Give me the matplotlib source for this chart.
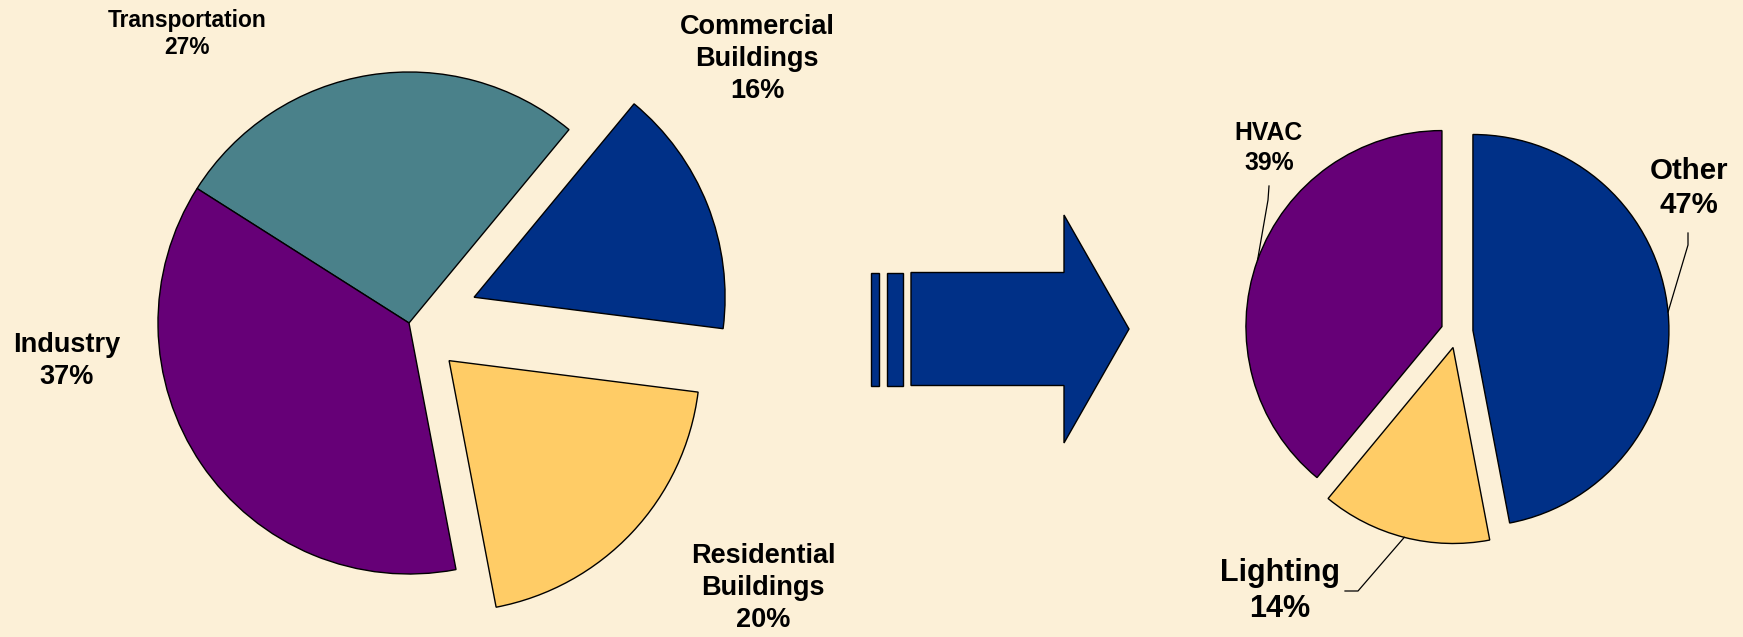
import numpy as np
import matplotlib.pyplot as plt
from matplotlib.patches import Polygon, Rectangle

# US energy use by sector (left) and commercial building end use (right)
sectors = ['Transportation', 'Industry', 'Residential\nBuildings', 'Commercial\nBuildings']
sector_pct = [27, 37, 20, 16]
sector_colors = ['#4A818A', '#660077', '#FFCC66', '#003087']
sector_explode = [0, 0, 55, 70]

end_uses = ['HVAC', 'Lighting', 'Other']
end_use_pct = [39, 14, 47]
end_use_colors = ['#660077', '#FFCC66', '#003087']

BG = '#FCF0D7'
W, H = 1743, 637

fig = plt.figure(figsize=(W / 100, H / 100), dpi=100, facecolor=BG)
ax = fig.add_axes([0, 0, 1, 1])
ax.set_facecolor(BG)

edge = dict(edgecolor='black', linewidth=1.0)

left, _ = ax.pie(sector_pct, colors=sector_colors, explode=sector_explode,
                 startangle=50.4, center=(409, 314), radius=251,
                 wedgeprops=edge)
right, _ = ax.pie(end_use_pct, colors=end_use_colors, explode=[16, 16, 16],
                  startangle=90, center=(1457, 305), radius=196,
                  wedgeprops=edge)

# block arrow between the two pies
ay, body_h, head_h = 308, 113, 228
body_x0, head_x, tip_x = 911, 1064, 1129
for x0, x1 in [(871, 879), (887, 903)]:
    ax.add_patch(Rectangle((x0, ay - body_h / 2), x1 - x0, body_h,
                           facecolor='#003087', **edge))
ax.add_patch(Polygon([(body_x0, ay - body_h / 2), (head_x, ay - body_h / 2),
                      (head_x, ay - head_h / 2), (tip_x, ay),
                      (head_x, ay + head_h / 2), (head_x, ay + body_h / 2),
                      (body_x0, ay + body_h / 2)],
                     closed=True, facecolor='#003087', **edge))

font = dict(family='Liberation Sans', weight='bold', ha='center', va='center')

# left pie labels
ax.text(187, 603, 'Transportation\n27%', fontsize=16.4, linespacing=1.2, **font)
ax.text(67, 276, 'Industry\n37%', fontsize=19.5, linespacing=1.35, **font)
ax.text(763, 49, 'Residential\nBuildings\n20%', fontsize=19.5, linespacing=1.3, **font)
ax.text(757, 578, 'Commercial\nBuildings\n16%', fontsize=19.5, linespacing=1.3, **font)

# right pie labels with leader lines
ax.text(1269, 489, 'HVAC\n39%', fontsize=17.8, linespacing=1.35, **font)
ax.text(1689, 449, 'Other\n47%', fontsize=21.2, linespacing=1.3, **font)
ax.text(1280, 46, 'Lighting\n14%', fontsize=22, linespacing=1.25, **font)


def rim_point(w):
    t = np.deg2rad((w.theta1 + w.theta2) / 2)
    cx, cy = w.center
    return cx + w.r * np.cos(t), cy + w.r * np.sin(t)


leaders = [
    (right[0], [(1269, 451), (1268, 437)]),
    (right[2], [(1688, 404), (1688, 392)]),
    (right[1], [(1345, 46), (1358, 46)]),
]
for w, pts in leaders:
    px, py = rim_point(w)
    xs = [p[0] for p in pts] + [px]
    ys = [p[1] for p in pts] + [py]
    ax.plot(xs, ys, color='black', lw=0.9)

ax.set_xlim(0, W)
ax.set_ylim(0, H)
ax.set_aspect('equal')
ax.axis('off')

fig.savefig('out.png', dpi=100, facecolor=BG)
